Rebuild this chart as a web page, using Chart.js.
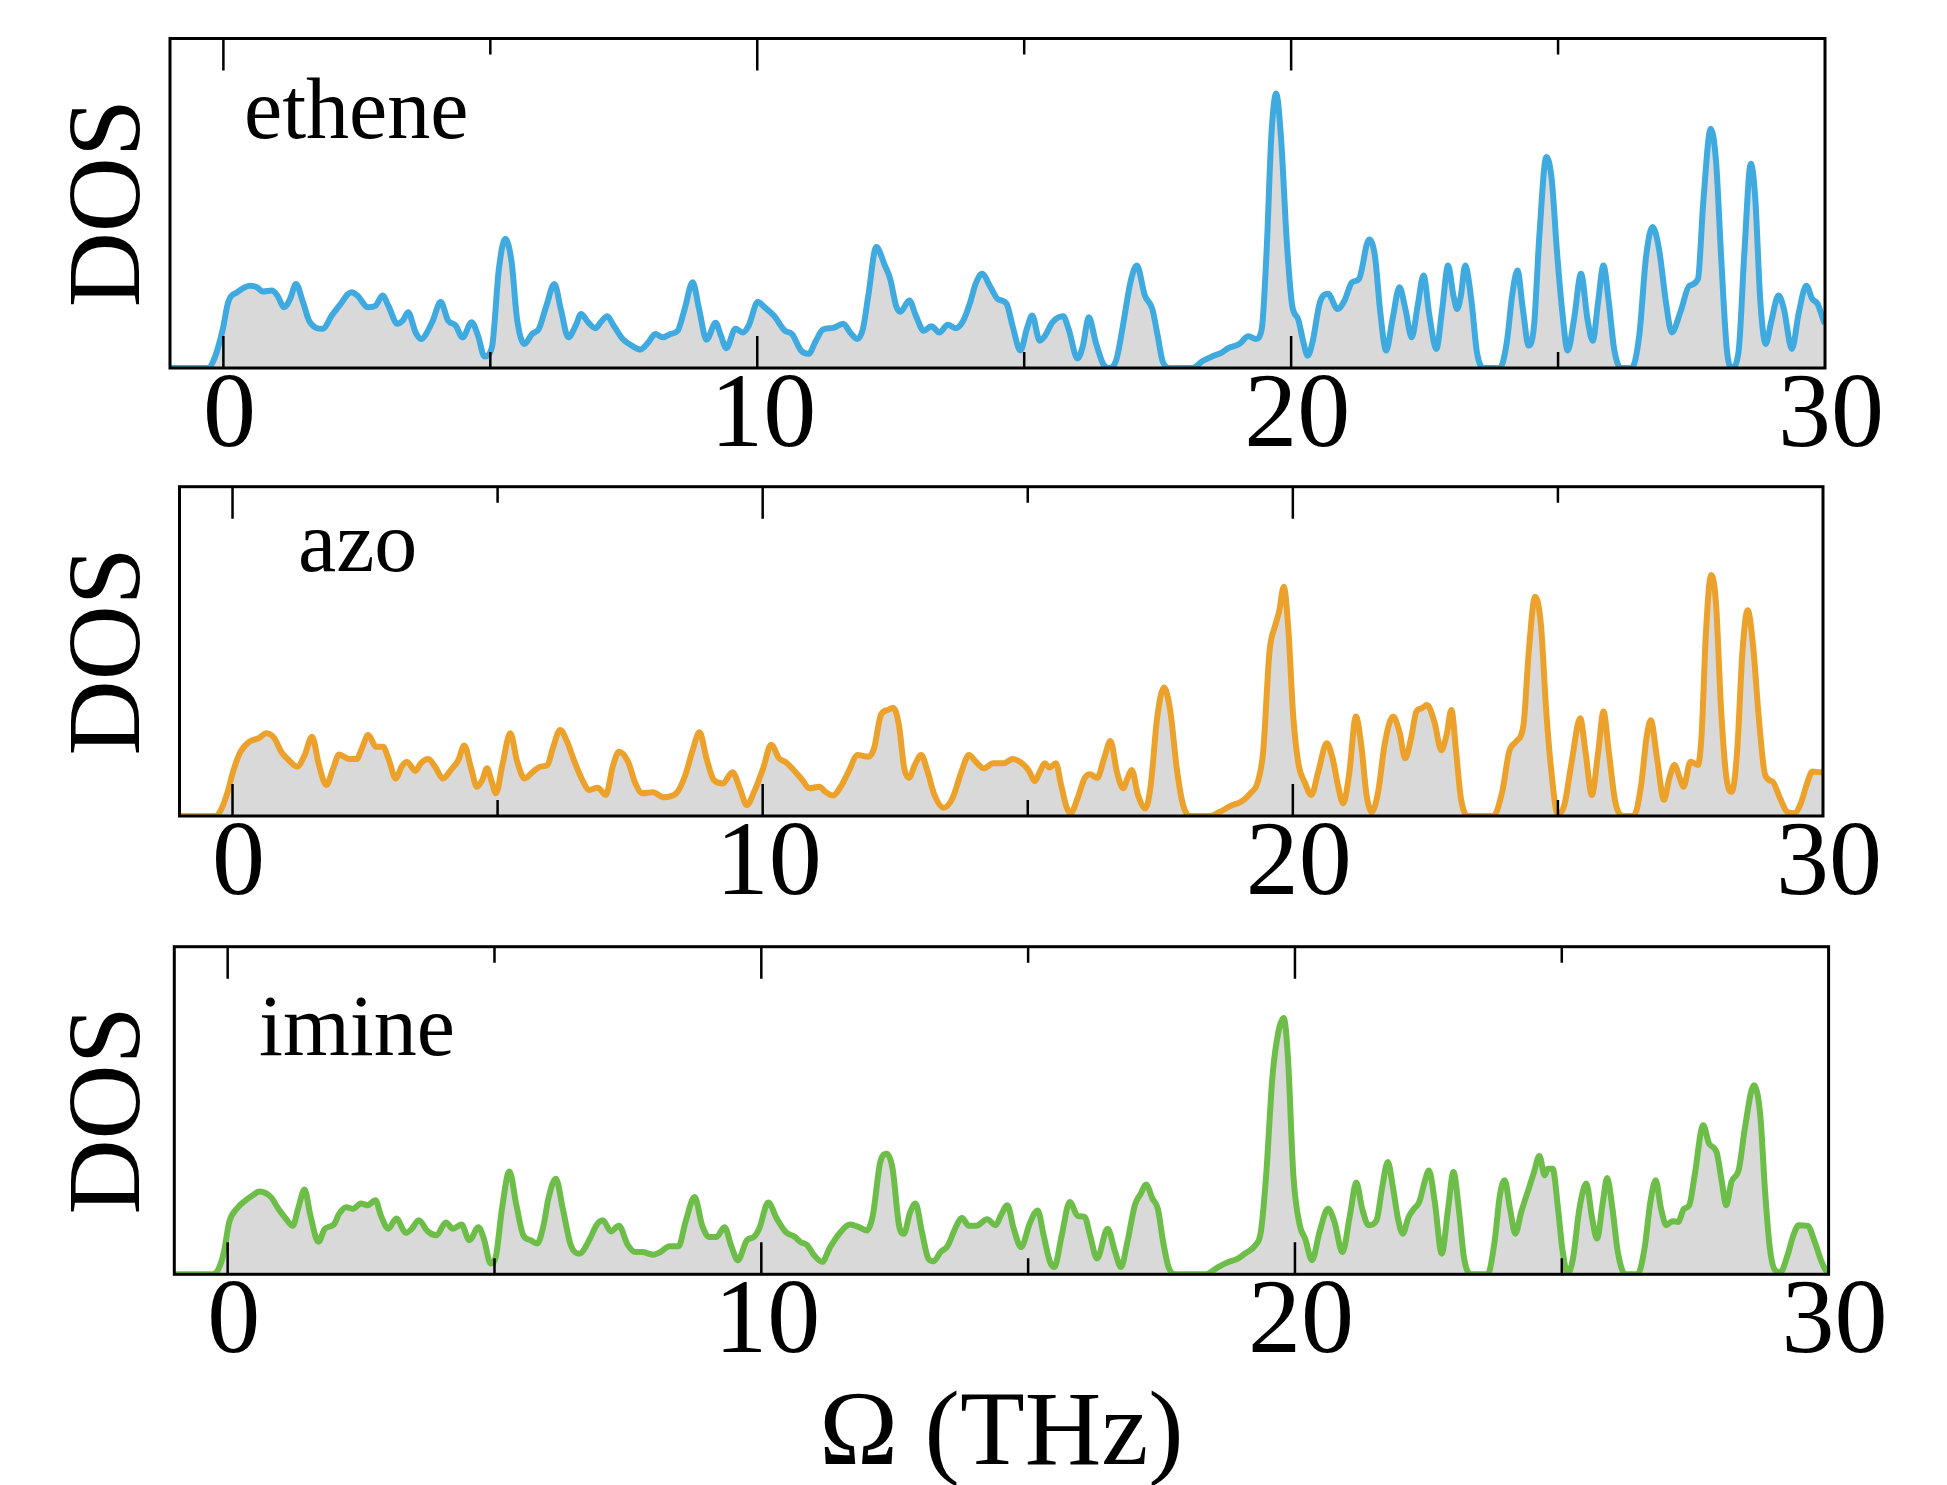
<!DOCTYPE html>
<html>
<head>
<meta charset="utf-8">
<title>DOS</title>
<script src="https://cdn.jsdelivr.net/npm/chart.js@4.4.1/dist/chart.umd.min.js"></script>
<style>
  body { margin: 0; background: #fff; }
  #page { position: relative; width: 1947px; height: 1485px; background: #fff; overflow: hidden; }
  canvas { position: absolute; left: 0; }
  .tag { position: absolute; font-family: "Liberation Serif", "Times New Roman", serif; font-size: 86px; line-height: 1; color: #000; white-space: nowrap; }
</style>
</head>
<body>
<div id="page">
  <canvas id="c1" width="1947" height="470" style="top:0px"></canvas>
  <canvas id="c2" width="1947" height="470" style="top:448px"></canvas>
  <canvas id="c3" width="1947" height="577" style="top:908px"></canvas>
  <div class="tag" style="left:244px;top:66px">ethene</div>
  <div class="tag" style="left:298px;top:499px">azo</div>
  <div class="tag" style="left:259px;top:983px">imine</div>
</div>
<script>
// tick values
const xTicks = [0, 10, 20, 30];
const frameTicks = [0, 5, 10, 15, 20, 25];

// ethene
const etheneOmega = [-1, -0.29, -0.15, -0.01, 0.09, 0.26, 0.5, 0.63, 0.74, 0.91, 1.01, 1.14, 1.25, 1.36, 1.49, 1.62, 1.86, 2.03, 2.17, 2.4,
  2.51, 2.71, 2.85, 2.98, 3.09, 3.26, 3.36, 3.46, 3.6, 3.7, 3.91, 4.07, 4.21, 4.35, 4.48, 4.65, 4.77, 4.89, 5.03, 5.16,
  5.28, 5.4, 5.5, 5.64, 5.78, 5.91, 6.05, 6.2, 6.32, 6.46, 6.6, 6.7, 6.83, 6.97, 7.07, 7.19, 7.31, 7.48, 7.65, 7.81,
  7.96, 8.09, 8.23, 8.37, 8.51, 8.64, 8.79, 8.91, 9.05, 9.22, 9.32, 9.42, 9.59, 9.73, 9.84, 10.01, 10.14, 10.31, 10.52, 10.65,
  10.82, 10.96, 11.1, 11.23, 11.4, 11.61, 11.74, 11.87, 11.98, 12.08, 12.23, 12.39, 12.49, 12.6, 12.68, 12.85, 12.97, 13.12, 13.26, 13.41,
  13.57, 13.72, 13.86, 13.99, 14.09, 14.21, 14.37, 14.5, 14.67, 14.78, 14.93, 15.05, 15.15, 15.29, 15.39, 15.53, 15.73, 15.83, 16, 16.1,
  16.21, 16.34, 16.48, 16.58, 16.72, 16.85, 16.99, 17.11, 17.26, 17.4, 17.5, 17.6, 17.74, 18.15, 18.35, 18.55, 18.69, 18.82, 19.03, 19.2,
  19.34, 19.45, 19.54, 19.63, 19.72, 19.81, 19.92, 20.02, 20.13, 20.23, 20.31, 20.4, 20.54, 20.69, 20.87, 21, 21.14, 21.27, 21.46, 21.57,
  21.67, 21.78, 21.9, 22.03, 22.14, 22.26, 22.37, 22.48, 22.59, 22.72, 22.83, 22.94, 23.04, 23.11, 23.18, 23.26, 23.38, 23.48, 23.61, 23.91,
  24.04, 24.14, 24.24, 24.34, 24.45, 24.55, 24.65, 24.78, 24.88, 24.98, 25.08, 25.18, 25.3, 25.43, 25.55, 25.65, 25.75, 25.85, 25.95, 26.05,
  26.18, 26.38, 26.52, 26.65, 26.77, 26.89, 27.02, 27.13, 27.29, 27.46, 27.62, 27.72, 27.86, 27.96, 28.06, 28.16, 28.25, 28.38, 28.49, 28.61,
  28.69, 28.79, 28.89, 28.99, 29.13, 29.23, 29.38, 29.51, 29.65, 29.76, 29.86, 29.98, 30];
const etheneDos = [0, 0, 3.7, 11.9, 20, 23, 25, 24.5, 23.2, 23.5, 22, 18.4, 21, 25.5, 20, 13.9, 11.9, 15.9, 18.9, 23,
  22, 18.4, 18.9, 22, 18.9, 13.4, 14.4, 16.9, 10.8, 8.8, 13.9, 20, 14.4, 12.9, 9.3, 13.9, 9.8, 3.5, 6.3, 30,
  39.2, 32, 14.9, 7.3, 10.3, 11.9, 18.9, 25.5, 17.9, 9.3, 12.9, 16.4, 13.9, 12.1, 13.9, 15.7, 12.9, 8.8, 6.8, 5.6,
  7.8, 10.3, 9.3, 10.3, 11.3, 17.9, 26, 17.9, 8.6, 13.7, 9.8, 6, 11.9, 10.8, 12.9, 20, 18.4, 15.9, 11.3, 10.3,
  5.3, 4.3, 8.3, 11.7, 12.1, 13.4, 10.8, 8.8, 11.9, 22, 36.7, 31.1, 27, 18.9, 17.1, 20.5, 15.9, 11.3, 12.7, 10.8,
  13.1, 12.1, 14.4, 20, 25.5, 28.6, 24.5, 21, 19.5, 12.9, 5.3, 11.9, 15.9, 8.3, 9.8, 13.9, 15.7, 11.9, 2.9, 6.8,
  15.4, 7.8, 1.2, 0, 2.2, 12.9, 26, 31.1, 22, 17.9, 9.8, 1.7, 0, 0, 2.2, 3.7, 4.6, 6, 7.3, 9.6,
  8.8, 11.9, 35.2, 70.6, 83.3, 70, 38, 18.9, 14.9, 7.8, 3.7, 7.8, 20, 22.5, 17.9, 20.5, 26, 27, 39, 34,
  16.9, 5.3, 14.9, 24.5, 17.9, 9.3, 18.9, 28.1, 15.9, 5.8, 17.9, 31.1, 22, 17.9, 22, 31.1, 20, 4.8, 0, 0,
  7.8, 22, 29.6, 17.9, 6.8, 12.9, 40.2, 64, 57.4, 35.2, 16.9, 5.3, 14.9, 28.6, 14.9, 8.3, 20, 31.1, 20, 5.8,
  0, 0, 9.8, 34, 42.8, 36.2, 20, 10.8, 16.9, 25, 27, 50.4, 72.6, 62.5, 32.1, 5.8, 0, 4.8, 35.2, 62,
  52.4, 20, 7.3, 13.9, 22, 17.9, 5.8, 16.9, 25, 21, 19.5, 14.1, 13.5];

// azo
const azoOmega = [-1, -0.32, -0.22, -0.09, 0.01, 0.15, 0.32, 0.49, 0.64, 0.79, 0.92, 1.04, 1.22, 1.36, 1.5, 1.63, 1.77, 1.9, 2.01, 2.2,
  2.34, 2.44, 2.56, 2.71, 2.84, 2.94, 3.08, 3.19, 3.29, 3.45, 3.55, 3.69, 3.82, 3.97, 4.12, 4.26, 4.37, 4.5, 4.61, 4.71,
  4.8, 4.89, 4.97, 5.09, 5.24, 5.37, 5.51, 5.67, 5.81, 5.94, 6.04, 6.18, 6.31, 6.45, 6.6, 6.73, 6.89, 7.04, 7.18, 7.29,
  7.46, 7.6, 7.73, 7.93, 8.13, 8.37, 8.54, 8.67, 8.81, 8.94, 9.08, 9.25, 9.43, 9.57, 9.7, 9.84, 10.01, 10.16, 10.31, 10.44,
  10.61, 10.75, 10.88, 11.07, 11.18, 11.32, 11.49, 11.62, 11.79, 11.99, 12.1, 12.23, 12.36, 12.46, 12.57, 12.67, 12.76, 12.87, 12.99, 13.11,
  13.24, 13.41, 13.58, 13.75, 13.89, 14.02, 14.17, 14.35, 14.55, 14.71, 14.93, 15.03, 15.13, 15.23, 15.32, 15.41, 15.53, 15.63, 15.73, 15.81,
  15.94, 16.07, 16.17, 16.31, 16.44, 16.56, 16.68, 16.8, 16.88, 16.96, 17.08, 17.22, 17.32, 17.44, 17.57, 17.69, 17.81, 17.93, 18.06, 18.43,
  18.63, 18.83, 19.03, 19.2, 19.34, 19.44, 19.56, 19.67, 19.74, 19.83, 19.91, 20.01, 20.11, 20.22, 20.35, 20.48, 20.64, 20.75, 20.85, 20.95,
  21.06, 21.19, 21.29, 21.39, 21.49, 21.61, 21.73, 21.89, 22.01, 22.12, 22.23, 22.33, 22.43, 22.53, 22.67, 22.8, 22.9, 22.99, 23.08, 23.17,
  23.31, 23.78, 23.95, 24.08, 24.21, 24.35, 24.45, 24.57, 24.68, 24.78, 24.89, 24.99, 25.12, 25.26, 25.42, 25.52, 25.64, 25.76, 25.86, 25.96,
  26.08, 26.23, 26.43, 26.57, 26.67, 26.75, 26.87, 27, 27.1, 27.2, 27.3, 27.37, 27.5, 27.64, 27.71, 27.79, 27.89, 27.98, 28.08, 28.18,
  28.28, 28.38, 28.48, 28.58, 28.68, 28.79, 28.91, 29.05, 29.19, 29.32, 29.46, 29.58, 29.69, 29.8, 29.96, 30];
const azoDos = [0, 0, 1.8, 7.4, 13.5, 19.5, 22.6, 23.6, 25.1, 23.6, 19.5, 17.3, 15, 18.5, 24.1, 15.5, 9.4, 14.5, 18.7, 17.3,
  17.3, 20.5, 24.6, 21, 21, 17.5, 11.4, 15, 16.4, 13.7, 16, 17.3, 15, 11.4, 14, 17, 21.4, 14.5, 8.9, 10.9,
  14.5, 10.4, 6.9, 15.5, 25.1, 16.5, 11.4, 13.5, 15, 15.5, 20.5, 26.1, 22.6, 16.5, 10.9, 7.9, 8.6, 6.4, 15.5, 19.5,
  16.5, 9.9, 6.9, 7.2, 5.7, 6.9, 12.4, 19.5, 25.4, 17.5, 10.9, 9.9, 13.3, 8.4, 3.3, 7.4, 14.5, 21.6, 17.5, 16.3,
  13.5, 10.9, 8.4, 8.9, 7.4, 6.2, 9.4, 13.5, 18.5, 18, 20.5, 30.7, 32.2, 32.9, 27.6, 14.5, 11.6, 15.5, 18.5, 13.5,
  6.4, 2.5, 5.4, 13.5, 18.5, 16.5, 14.5, 16, 16, 17.3, 15.5, 13.5, 10.6, 13.5, 16, 14.7, 16, 9.4, 2.8, 0.8,
  5.4, 11.4, 12.7, 11.6, 17.5, 22.8, 13.5, 8.4, 11.4, 14, 6.4, 2.3, 9.4, 29.7, 39, 31.7, 14.5, 3.3, 0, 0,
  1.3, 3.1, 4.4, 6.9, 10.4, 19.5, 49.9, 58, 62, 69.6, 58, 29.7, 15.5, 10.4, 6.4, 13.5, 22.1, 17.5, 9.4, 3.8,
  12.4, 30.2, 21.6, 6.4, 1.3, 7.4, 21.6, 30.2, 25.6, 17.5, 23.6, 31.7, 32.7, 33.7, 28.6, 20, 24.6, 32.2, 19.5, 5.4,
  0, 0, 7.4, 19.5, 22.6, 27.6, 49.9, 66.6, 58, 31.7, 11.4, 0.8, 3.3, 16.5, 29.7, 19.5, 6.4, 19.5, 31.7, 19.5,
  4.4, 0, 0, 9.4, 23.6, 29.1, 17.5, 4.9, 11.4, 15.5, 11.4, 8.9, 16.5, 15.5, 24.6, 55, 73.2, 65, 31.7, 11.4,
  7.4, 19.5, 49.9, 62.5, 51.9, 29.7, 12.4, 10.4, 5.4, 1.3, 0.8, 3.8, 9.4, 13.5, 13.3, 13.3];

// imine
const imineOmega = [-1, -0.29, -0.17, -0.07, 0.03, 0.17, 0.34, 0.47, 0.59, 0.81, 0.95, 1.08, 1.22, 1.32, 1.44, 1.55, 1.7, 1.82, 1.99, 2.09,
  2.22, 2.35, 2.5, 2.62, 2.77, 2.87, 3.01, 3.16, 3.34, 3.45, 3.58, 3.75, 3.91, 4.09, 4.22, 4.38, 4.53, 4.7, 4.8, 4.93,
  5.03, 5.14, 5.28, 5.41, 5.54, 5.68, 5.8, 5.92, 6.01, 6.15, 6.28, 6.43, 6.59, 6.79, 6.91, 7.03, 7.18, 7.33, 7.5, 7.64,
  7.77, 7.97, 8.11, 8.28, 8.45, 8.58, 8.75, 8.89, 9.02, 9.16, 9.31, 9.44, 9.56, 9.73, 9.86, 9.96, 10.13, 10.29, 10.46, 10.63,
  10.73, 10.86, 10.99, 11.14, 11.29, 11.46, 11.66, 11.83, 11.98, 12.09, 12.23, 12.35, 12.46, 12.58, 12.67, 12.79, 12.89, 13.01, 13.13, 13.23,
  13.36, 13.49, 13.63, 13.76, 13.89, 14.03, 14.23, 14.39, 14.49, 14.61, 14.73, 14.87, 15.03, 15.18, 15.29, 15.41, 15.49, 15.63, 15.78, 15.93,
  16.06, 16.16, 16.29, 16.49, 16.63, 16.74, 16.86, 17, 17.11, 17.21, 17.33, 17.43, 17.53, 17.63, 17.76, 18.33, 18.56, 18.73, 18.93, 19.06,
  19.26, 19.36, 19.46, 19.58, 19.69, 19.79, 19.87, 19.97, 20.09, 20.19, 20.32, 20.46, 20.62, 20.74, 20.89, 21.03, 21.15, 21.26, 21.38, 21.53,
  21.63, 21.74, 21.83, 21.93, 22.02, 22.13, 22.23, 22.33, 22.43, 22.51, 22.62, 22.75, 22.87, 22.97, 23.07, 23.17, 23.3, 23.61, 23.74, 23.84,
  23.93, 24.03, 24.13, 24.24, 24.38, 24.48, 24.58, 24.68, 24.74, 24.83, 24.93, 25.01, 25.11, 25.21, 25.33, 25.46, 25.57, 25.66, 25.77, 25.85,
  25.95, 26.05, 26.19, 26.42, 26.55, 26.66, 26.76, 26.86, 26.96, 27.07, 27.18, 27.29, 27.39, 27.49, 27.65, 27.76, 27.9, 28, 28.08, 28.18,
  28.32, 28.43, 28.6, 28.72, 28.81, 28.9, 29, 29.1, 29.23, 29.34, 29.44, 29.61, 29.74, 29.87, 29.97, 30];
const imineDos = [0, 0, 1.7, 6.8, 16, 20, 22.6, 24.1, 25.3, 23.6, 20, 17.2, 14.8, 20, 25.9, 18, 9.9, 13.9, 15.2, 18.5,
  20.5, 20, 21.6, 21.1, 22.6, 18, 13.9, 17, 12.7, 13.9, 16.5, 13.1, 11.9, 15.8, 13.9, 15.2, 10.4, 14.4, 10.9, 3.3,
  5.8, 20, 31.4, 21.1, 11.9, 10.4, 9.4, 15, 23.1, 29.2, 20, 8.9, 6.3, 10.9, 15, 16.5, 13.1, 14.8, 8.9, 6.8,
  6.8, 6, 6.8, 8.6, 8.6, 16, 23.6, 15, 11.4, 11.4, 14.4, 8.5, 4.3, 10.4, 11.4, 13.9, 21.9, 17, 12.9, 11.4,
  9.9, 8.9, 5.8, 3.8, 8.3, 12.4, 15.2, 14.4, 13.4, 18, 34.3, 36.8, 32.2, 15, 12.4, 19, 21.6, 12.9, 4.8, 4,
  6.8, 8.6, 13.9, 17.2, 14.8, 14.8, 16.8, 15, 18, 21.1, 13.9, 8.3, 15.5, 19.5, 11.9, 3.8, 2.2, 11.9, 22.1, 17.8,
  17.5, 11.9, 4.8, 13.9, 6.8, 2.2, 9.9, 21.1, 24.6, 27.4, 23.1, 20, 9.9, 2.2, 0, 0, 2.2, 3.6, 4.8, 6.3,
  8.9, 12.9, 30.2, 60.7, 74, 78.2, 65.8, 30.2, 15, 10.9, 4.3, 12.9, 20, 16, 6.8, 18, 28, 20, 15, 16.5,
  26.1, 34.3, 27.2, 17, 12.4, 17.5, 20, 22.1, 28.2, 31.7, 22.1, 6.3, 20, 31.2, 20, 4.8, 0, 0, 9.9, 24.1,
  28.7, 20, 12.4, 19, 26.1, 31.2, 36.1, 30.2, 32.2, 32.2, 20, 7.8, 0.2, 4.8, 20, 27.7, 17, 10.9, 22.1, 29.4,
  20, 6.8, 0, 0, 7.8, 22.1, 28.7, 20, 15, 16.2, 16, 20, 21.1, 30.2, 45.5, 39.9, 37.3, 28.2, 21.1, 28.2,
  32.2, 44.5, 57.7, 48.5, 25.1, 7.8, 1.2, 0.7, 5.8, 11.9, 15, 14.8, 9.9, 3.8, 0.7, 0.5];

const serif = "'Liberation Serif', 'Times New Roman', serif";

// box with inward ticks on top and bottom
const framePlugin = {
  id: "frame",
  afterDatasetsDraw(chart) {
    const { ctx, chartArea: a } = chart;
    const x = chart.scales.x;
    ctx.save();
    ctx.strokeStyle = "#000";
    ctx.lineWidth = 3;
    ctx.strokeRect(a.left, a.top, a.right - a.left, a.bottom - a.top);
    ctx.lineWidth = 2.5;
    frameTicks.forEach((v) => {
      const px = x.getPixelForValue(v);
      const len = v % 10 === 0 ? 32 : 16;
      ctx.beginPath();
      ctx.moveTo(px, a.top);
      ctx.lineTo(px, a.top + len);
      ctx.moveTo(px, a.bottom);
      ctx.lineTo(px, a.bottom - len);
      ctx.stroke();
    });
    ctx.restore();
  },
};

function makePanel(id, omega, dos, color, p) {
  const points = omega.map((w, i) => ({ x: w, y: dos[i] }));
  return new Chart(document.getElementById(id), {
    type: "line",
    data: {
      datasets: [
        {
          data: points,
          borderColor: color,
          borderWidth: 6,
          backgroundColor: "#d9d9d9",
          fill: "origin",
          pointRadius: 0,
          cubicInterpolationMode: "monotone",
        },
      ],
    },
    options: {
      responsive: false,
      animation: false,
      devicePixelRatio: 1,
      layout: { padding: { top: p.top, right: p.right, left: 0, bottom: 0 } },
      plugins: { legend: { display: false }, tooltip: { enabled: false } },
      scales: {
        x: {
          type: "linear",
          min: -1,
          max: 30,
          afterBuildTicks: (s) => {
            s.ticks = xTicks.map((v) => ({ value: v }));
          },
          afterFit: (s) => {
            s.height = p.axisHeight;
          },
          grid: { display: false, drawTicks: false },
          border: { display: false },
          ticks: {
            color: "#000",
            padding: -3,
            labelOffset: 6,
            maxRotation: 0,
            autoSkip: false,
            font: { family: serif, size: 106, lineHeight: 1 },
          },
          title: {
            display: !!p.xTitle,
            text: p.xTitle || "",
            color: "#000",
            padding: { top: 0, bottom: 1 },
            font: { family: serif, size: 106, lineHeight: 0.9 },
          },
        },
        y: {
          min: 0,
          max: 100,
          afterFit: (s) => {
            s.width = p.left;
          },
          grid: { display: false, drawTicks: false },
          border: { display: false },
          ticks: { display: false },
          title: {
            display: true,
            text: "DOS",
            color: "#000",
            padding: { top: 60, bottom: 0 },
            font: { family: serif, size: 104, lineHeight: 1 },
          },
        },
      },
    },
    plugins: [framePlugin],
  });
}

makePanel("c1", etheneOmega, etheneDos, "#3eaae0", { top: 38.5, right: 122, left: 170, axisHeight: 102 });
makePanel("c2", azoOmega, azoDos, "#eca22a", { top: 38.7, right: 124, left: 179.5, axisHeight: 102 });
makePanel("c3", imineOmega, imineDos, "#6cbe48", { top: 38.7, right: 118.4, left: 174.3, axisHeight: 210.7, xTitle: "Ω (THz)" });
</script>
</body>
</html>
